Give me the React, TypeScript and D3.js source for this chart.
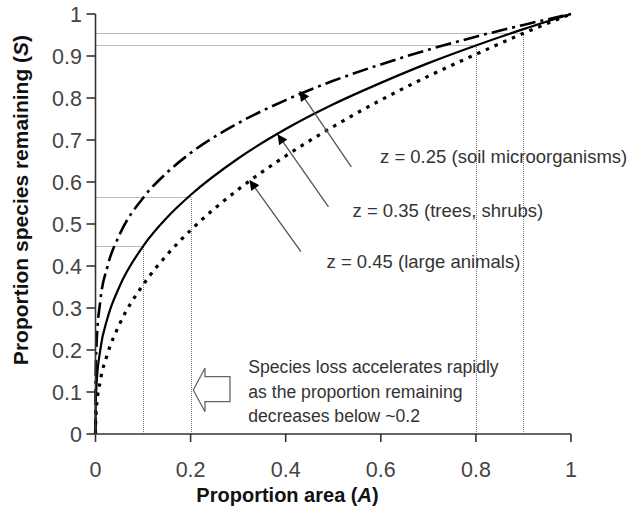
import * as d3 from 'd3';

// Proportion area (A) sampled along the curves
const areaValues = [0, 0.0002, 0.002, 0.01, 0.025, 0.05, 0.1, 0.15, 0.2, 0.3, 0.4, 0.5, 0.6, 0.7, 0.8, 0.9, 1];

// Proportion species remaining
const speciesSoil = [0, 0.12, 0.21, 0.316, 0.398, 0.473, 0.562, 0.622, 0.669, 0.74, 0.795, 0.841, 0.88, 0.915, 0.946, 0.974, 1];
const speciesTrees = [0, 0.05, 0.114, 0.2, 0.275, 0.35, 0.447, 0.515, 0.569, 0.656, 0.726, 0.785, 0.836, 0.883, 0.925, 0.964, 1];
const speciesAnimals = [0, 0.02, 0.061, 0.126, 0.19, 0.26, 0.355, 0.426, 0.485, 0.582, 0.662, 0.732, 0.795, 0.852, 0.904, 0.954, 1];

const seriesNames = ['z = 0.25 (soil microorganisms)', 'z = 0.35 (trees, shrubs)', 'z = 0.45 (large animals)'];

// dotted reference guides
const guideArea = [0.1, 0.2, 0.8, 0.9];
const guideSpecies = [0.447, 0.565, 0.925, 0.955];

// annotation arrows: tail -> head, in data units
const arrowTailA = [0.538, 0.49, 0.432];
const arrowTailS = [0.636, 0.541, 0.434];
const arrowHeadA = [0.43, 0.384, 0.325];
const arrowHeadS = [0.815, 0.712, 0.603];

const ticks = [0, 0.1, 0.2, 0.3, 0.4, 0.5, 0.6, 0.7, 0.8, 0.9, 1];
const xTicks = [0, 0.2, 0.4, 0.6, 0.8, 1];

const noteLines = ['Species loss accelerates rapidly', 'as the proportion remaining', 'decreases below ~0.2'];

export default function App() {
  const width = 629;
  const height = 511;
  const margin = { top: 14, left: 95.5, right: 58, bottom: 77 };

  const x = d3.scaleLinear().domain([0, 1]).range([margin.left, width - margin.right]);
  const y = d3.scaleLinear().domain([0, 1]).range([height - margin.bottom, margin.top]);

  // snap thin dotted guides onto the pixel grid so they stay crisp
  const snap = (v: number) => Math.round(v) + 0.5;

  const line = d3
    .line<number>()
    .x((d, i) => x(areaValues[i]))
    .y((d) => y(d))
    .curve(d3.curveMonotoneX);

  const font = '"Liberation Sans", Arial, sans-serif';
  const styles = [
    { dash: '16 5 3 5', w: 2.6 },
    { dash: null, w: 2.2 },
    { dash: '3.5 6', w: 3.2 },
  ];
  const series = [speciesSoil, speciesTrees, speciesAnimals];

  // label positions next to the arrow tails
  const labelX = [380, 352.5, 326.5];
  const labelY = [163, 216.5, 268];

  return (
    <svg
      width={width}
      height={height}
      style={{ position: 'absolute', left: 0, top: 0, background: '#fff' }}
      fontFamily={font}
    >
      <defs>
        <marker id='head' viewBox='0 0 10 10' refX='9' refY='5' markerWidth='12' markerHeight='10' markerUnits='userSpaceOnUse' orient='auto'>
          <path d='M0,0 L10,5 L0,10 z' fill='#000' />
        </marker>
      </defs>

      {/* dotted guides */}
      {guideArea.map((a, i) => (
        <g key={'g' + i} stroke='#777' strokeWidth={1} strokeDasharray='1 1' fill='none'>
          <line x1={x(0)} x2={snap(x(a))} y1={snap(y(guideSpecies[i]))} y2={snap(y(guideSpecies[i]))} />
          <line x1={snap(x(a))} x2={snap(x(a))} y1={y(0)} y2={snap(y(guideSpecies[i]))} />
        </g>
      ))}

      {/* curves */}
      {series.map((s, i) => (
        <path
          key={'s' + i}
          d={line(s) || ''}
          fill='none'
          stroke='#000'
          strokeWidth={styles[i].w}
          strokeDasharray={styles[i].dash || undefined}
        />
      ))}

      {/* annotation arrows and labels */}
      {seriesNames.map((name, i) => (
        <g key={'a' + i}>
          <line
            x1={x(arrowTailA[i])}
            y1={y(arrowTailS[i])}
            x2={x(arrowHeadA[i])}
            y2={y(arrowHeadS[i])}
            stroke='#555'
            strokeWidth={1.3}
            markerEnd='url(#head)'
          />
          <text x={labelX[i]} y={labelY[i]} fontSize={18.5} fill='#333'>
            {name}
          </text>
        </g>
      ))}

      {/* hollow block arrow and note */}
      <path
        d='M193.3,390 L205,368 L205,376.7 L230,376.7 L230,401.7 L205,401.7 L205,411.7 Z'
        fill='#fff'
        stroke='#666'
        strokeWidth={1.3}
      />
      {noteLines.map((t, i) => (
        <text key={'n' + i} x={248.3} y={373.3 + i * 24.2} fontSize={17.6} fill='#333'>
          {t}
        </text>
      ))}

      {/* axes */}
      <g stroke='#333' strokeWidth={1.6}>
        <line x1={x(0)} x2={x(0)} y1={y(0)} y2={y(1)} />
        <line x1={x(0)} x2={x(1)} y1={y(0)} y2={y(0)} />
        {ticks.map((t) => (
          <line key={'yt' + t} x1={x(0) - 9} x2={x(0)} y1={y(t)} y2={y(t)} />
        ))}
        {xTicks.map((t) => (
          <line key={'xt' + t} x1={x(t)} x2={x(t)} y1={y(0)} y2={y(0) + 8} />
        ))}
      </g>
      {ticks.map((t) => (
        <text key={'yl' + t} x={82} y={y(t)} dy='0.36em' textAnchor='end' fontSize={21.5} fill='#444'>
          {String(t)}
        </text>
      ))}
      {xTicks.map((t) => (
        <text key={'xl' + t} x={x(t)} y={477} textAnchor='middle' fontSize={21.5} fill='#444'>
          {String(t)}
        </text>
      ))}

      {/* axis titles */}
      <text x={287.5} y={501.5} textAnchor='middle' fontSize={20} fontWeight='bold' fill='#111'>
        Proportion area (<tspan fontStyle='italic'>A</tspan>)
      </text>
      <text
        transform='translate(28,200) rotate(-90)'
        textAnchor='middle'
        fontSize={21}
        fontWeight='bold'
        fill='#111'
      >
        Proportion species remaining (<tspan fontStyle='italic'>S</tspan>)
      </text>
    </svg>
  );
}
